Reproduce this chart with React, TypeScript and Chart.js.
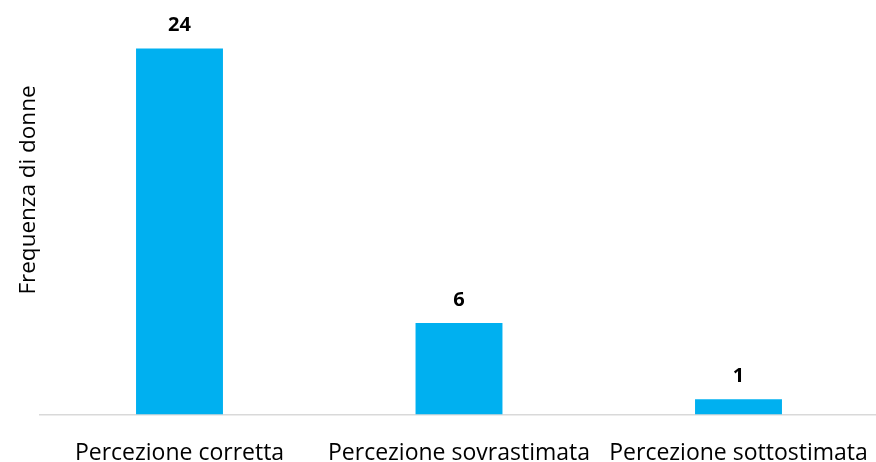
import React, { useEffect, useRef } from "react";
import { Chart, registerables } from "chart.js";

Chart.register(...registerables);

const categories = ["Percezione corretta", "Percezione sovrastimata", "Percezione sottostimata"];
const values = [24, 6, 1];
const yTitle = "Frequenza di donne";

const BAR_COLOR = "#00B0F0";
const FONT = "'Open Sans', 'Liberation Sans', sans-serif";

const valueLabelPlugin = {
  id: "valueLabels",
  afterDatasetsDraw(chart: any) {
    const ctx = chart.ctx;
    const meta = chart.getDatasetMeta(0);
    ctx.save();
    ctx.font = `bold 20px ${FONT}`;
    ctx.fillStyle = "#000";
    ctx.textAlign = "center";
    ctx.textBaseline = "alphabetic";
    meta.data.forEach((bar: any, i: number) => {
      ctx.fillText(String(values[i]), bar.x, bar.y - 17);
    });
    ctx.restore();
  },
};

const yTitlePlugin = {
  id: "yTitle",
  afterDraw(chart: any) {
    const ctx = chart.ctx;
    ctx.save();
    ctx.translate(29, 190);
    ctx.rotate(-Math.PI / 2);
    ctx.font = `22.5px ${FONT}`;
    ctx.fillStyle = "#000";
    ctx.textAlign = "center";
    ctx.textBaseline = "middle";
    ctx.fillText(yTitle, 0, 0);
    ctx.restore();
  },
};

export default function App() {
  const canvasRef = useRef<HTMLCanvasElement | null>(null);

  useEffect(() => {
    if (!canvasRef.current) return;
    const chart = new Chart(canvasRef.current, {
      type: "bar",
      data: {
        labels: categories,
        datasets: [
          {
            data: values,
            backgroundColor: BAR_COLOR,
            borderWidth: 0,
            categoryPercentage: 1,
            barPercentage: 0.311,
          },
        ],
      },
      options: {
        responsive: false,
        animation: false,
        layout: { padding: { left: 39.75, right: 1.75, top: 0, bottom: 0 } },
        plugins: {
          legend: { display: false },
          tooltip: { enabled: false },
        },
        scales: {
          x: {
            grid: { display: false },
            border: { display: true, color: "#d9d9d9", width: 1.5 },
            ticks: {
              color: "#000",
              font: { family: FONT, size: 23 },
              padding: 17,
              maxRotation: 0,
              minRotation: 0,
              autoSkip: false,
            },
            afterFit: (scale: any) => {
              scale.height = 47.5;
              scale.paddingLeft = 0;
              scale.paddingRight = 0;
            },
          },
          y: {
            display: false,
            min: 0,
            max: 27.18,
          },
        },
      },
      plugins: [valueLabelPlugin, yTitlePlugin],
    });
    return () => chart.destroy();
  }, []);

  return (
    <div
      style={{
        position: "fixed",
        left: 0,
        top: 0,
        width: 876,
        height: 462,
        overflow: "hidden",
        background: "#fff",
      }}
    >
      <canvas ref={canvasRef} width={880} height={462} style={{ width: 880, height: 462, display: "block" }} />
    </div>
  );
}
